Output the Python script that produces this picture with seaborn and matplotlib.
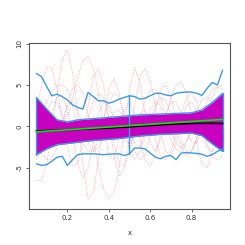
import numpy as np
import pandas as pd
import matplotlib
matplotlib.use("Agg")
import matplotlib.pyplot as plt
import seaborn as sns

# ---- data ----
x_fine = [0.05, 0.075, 0.1, 0.125, 0.15, 0.175, 0.2, 0.225, 0.25, 0.275, 0.3, 0.325,
          0.35, 0.375, 0.4, 0.425, 0.45, 0.475, 0.5, 0.525, 0.55, 0.575, 0.6, 0.625,
          0.65, 0.675, 0.7, 0.725, 0.75, 0.775, 0.8, 0.825, 0.85, 0.875, 0.9, 0.925, 0.95]
x_coarse = [0.05, 0.1, 0.15, 0.2, 0.25, 0.3, 0.35, 0.4, 0.45, 0.5, 0.55, 0.6, 0.65,
            0.7, 0.75, 0.8, 0.85, 0.9, 0.95]

curve1 = [-6.5, -6.5, -4.5, -0.5, 4, 8, 9.2, 6.5, 1.5, -4.5, -8.8, -8, -4, 0.5, 4.5, 5.8, 4,
          0.5, -3, -4, -3, -0.5, 2, 3, 2.5, 0.5, -1.5, -2.8, -3, -2, -0.5, 1, 2.2, 2.5, 1.8, 0.8, -0.2]
curve2 = [2, 5, 7.2, 7, 4.5, 1, -2.5, -4.8, -4.5, -1.5, 2.5, 6, 7, 5, 1, -3.5, -6, -5, -1.5,
          2.5, 6, 7, 5.5, 2.5, -0.5, -3, -3.5, -2, 0.5, 2.5, 3, 1.8, -0.5, -2.5, -3, -2.2, -1]
curve3 = [-2, -3.2, -4, -4, -2.5, 0, 2.8, 4.6, 5, 4, 1.5, -1.5, -5, -7.5, -8.7, -8, -5, -0.5,
          4.5, 7, 5.5, 1.5, -2, -3, -1.5, 1, 3.5, 5, 5.4, 4, 1.5, -2, -4.5, -5, -3, 0, 3]
curve4 = [1, 0, -1, -2, -2, -1, 1, 3.5, 6, 8, 8.4, 7, 4, 0, -3.5, -4, -1.5, 2, 3, 1.5, -1.5,
          -4, -4.8, -3.5, -1, 1.5, 3, 3, 1.5, -0.5, -1.8, -2, -0.5, 1.5, 3.5, 4.8, 5]
curve5 = [-4, -3, -1, 1.5, 3.5, 3.8, 2, -1, -4.5, -6.2, -5, -2, 1.5, 3, 2.5, 1, -0.5, -1.8,
          -2, -1, 1, 3, 4.3, 4.5, 3.5, 1.5, -0.5, -2, -2.5, -1.8, 0, 2, 3.2, 3.5, 2.8, 2, 1]
curve6 = [2, 1, -1, -2, -1.5, 0.5, 2.5, 3, 2, 0, -2, -3, -2.5, -1, 0.5, 1.8, 2, 1, -0.5, -2,
          -2.5, -1.5, 0.5, 2.5, 3.4, 3.2, 1.5, -0.5, -2.5, -3.5, -3, -1.5, 0.5, 1.8, 2, 1.2, 0]
curve7 = [-1, 0.5, 2, 3, 2.8, 1.5, 0, -1.5, -2, -1, 1, 3, 4, 3.5, 1, -2, -4.5, -4.8, -3, -0.5,
          1.5, 2, 0.5, -1.5, -3.5, -4, -3, -1, 1.5, 3.5, 4, 3, 0.5, -2, -3.8, -4, -3.5]
curve8 = [0, 1.5, 3, 4.2, 5, 5, 4.5, 2.5, 0, -2, -3, -3, -1.5, 1, 3, 4, 3.5, 1.5, -1, -3, -4,
          -3.5, -1, 2, 4.5, 5, 3.5, 1, -1.5, -3, -3, -1.5, 1, 3, 4.5, 4.8, 4.5]
red_curves = [curve1, curve2, curve3, curve4, curve5, curve6, curve7, curve8]

outer_upper = [6.4, 6.0, 4.8, 3.7, 3.9, 3.6, 3.2, 2.6, 2.3, 2.1, 4.1, 3.6, 3.1, 3.1, 2.8, 3.0,
               3.3, 3.5, 3.7, 3.6, 3.3, 3.4, 3.7, 4.0, 4.0, 3.8, 3.7, 4.0, 4.1, 4.15, 4.15, 4.0,
               3.75, 4.6, 5.3, 5.0, 6.8]
outer_lower = [-4.5, -4.7, -4.6, -4.2, -3.7, -3.6, -4.7, -4.0, -3.4, -3.3, -3.3, -3.3, -3.35,
               -3.4, -3.35, -3.3, -3.3, -3.5, -3.3, -2.6, -2.6, -2.7, -3.2, -3.7, -3.9, -3.6,
               -3.5, -4.0, -3.2, -3.15, -3.2, -3.25, -3.35, -3.6, -3.4, -3.0, -2.7]

band_upper = [3.5, 2.1, 0.8, 0.55, 0.8, 0.9, 1.0, 1.1, 1.2, 1.3, 1.4, 1.45, 1.5, 1.55, 1.6,
              1.65, 2.0, 2.9, 4.0]
band_lower = [-3.4, -2.7, -2.2, -2.05, -1.9, -1.75, -1.65, -1.55, -1.45, -1.3, -1.15, -1.05,
              -0.95, -0.9, -0.85, -0.8, -1.1, -2.1, -3.0]
black_line = [-0.55, -0.5, -0.45, -0.4, -0.35, -0.3, -0.25, -0.2, -0.12, -0.05, 0.05, 0.12,
              0.2, 0.27, 0.32, 0.36, 0.38, 0.38, 0.35]
green_line = [-0.65, 0.85]
green_x = [0.05, 0.95]
vline_x = [0.5, 0.5]
vline_y = [-3.3, 3.8]

x_ticks = [0.2, 0.4, 0.6, 0.8]
y_ticks = [-5, 0, 5, 10]

# ---- plot ----
sns.set_theme(style="white")
plt.rcParams["font.family"] = ["DejaVu Sans"]

fig = plt.figure(figsize=(2.45, 2.45), dpi=100)
ax = fig.add_axes([0.118, 0.147, 0.821, 0.677])

blue = "#3a9be8"
for c in red_curves:
    sns.lineplot(x=x_fine, y=c, ax=ax, color="#f07080", alpha=0.55, lw=0.7,
                 linestyle=(0, (1, 1.3)), legend=False)

ax.fill_between(x_coarse, band_lower, band_upper, color="#c800bf", lw=0, zorder=3)
sns.lineplot(x=x_coarse, y=band_upper, ax=ax, color=blue, lw=1.0, zorder=4)
sns.lineplot(x=x_coarse, y=band_lower, ax=ax, color=blue, lw=1.0, zorder=4)
ax.plot([x_coarse[0], x_coarse[0]], [band_lower[0], band_upper[0]], color=blue, lw=1.0, zorder=4)
ax.plot([x_coarse[-1], x_coarse[-1]], [band_lower[-1], band_upper[-1]], color=blue, lw=1.0, zorder=4)

sns.lineplot(x=x_fine, y=outer_upper, ax=ax, color=blue, lw=1.0, zorder=4)
sns.lineplot(x=x_fine, y=outer_lower, ax=ax, color=blue, lw=1.0, zorder=4)
sns.lineplot(x=vline_x, y=vline_y, ax=ax, color=blue, lw=1.0, zorder=4.5,
             estimator=None, sort=False)

sns.lineplot(x=x_coarse, y=black_line, ax=ax, color="black", lw=1.2, zorder=5)
sns.lineplot(x=green_x, y=green_line, ax=ax, color="#00ee00", lw=1.2, zorder=6)

ax.set_xlim(0.014, 0.986)
ax.set_ylim(-9.95, 10.05)
ax.set_xticks(x_ticks)
ax.set_xticklabels([str(t) for t in x_ticks])
ax.set_yticks(y_ticks)
ax.set_yticklabels([str(t) for t in y_ticks], rotation=90, va="center")
ax.tick_params(axis="both", which="both", direction="out", length=2.5, width=0.5,
               labelsize=5, colors="#333333", pad=2, bottom=True, left=True)
for s in ax.spines.values():
    s.set_color("#555555")
    s.set_linewidth(0.8)
ax.set_xlabel("x", fontsize=5, color="#333333", labelpad=6)
ax.set_ylabel("")
ax.grid(False)

fig.savefig("out.png", dpi=100, facecolor="white")
